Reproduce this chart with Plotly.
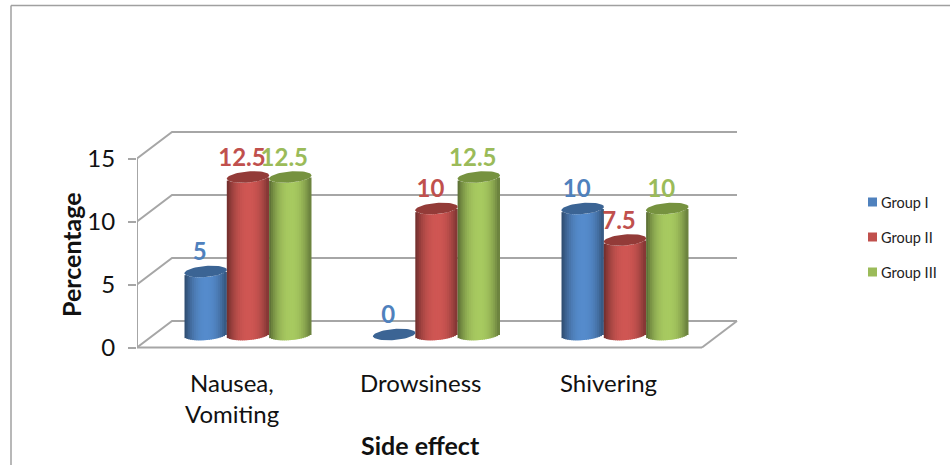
import math
import plotly.graph_objects as go

# Survey data: percentage of patients per side effect and group
categories = [["Nausea,", "Vomiting"], ["Drowsiness"], ["Shivering"]]
groups = ["Group I", "Group II", "Group III"]
group_i = [5, 0, 10]
group_ii = [12.5, 10, 7.5]
group_iii = [12.5, 12.5, 10]
y_ticks = [0, 5, 10, 15]

# Styling
FONT = "Lato"
GRID = "#a6a6a6"
BASE_COLORS = ["#4f81bd", "#c0504d", "#9bbb59"]
LABEL_COLORS = ["#4f81bd", "#c0504d", "#9bbb59"]
TOP_COLORS = ["#3b6494", "#933b38", "#76923f"]

# Canvas, plot box and the front face of the chart, in pixels
W, H = 950, 465
BOX_LEFT, BOX_RIGHT, BOX_TOP, BOX_BOTTOM = 137, 760, 120, 388
FRONT_RIGHT, ZERO_Y, FIFTEEN_Y = 702, 347.5, 158.5
PX_X = 1 / 188.5                    # category units per pixel
PX_Y = 15 / (ZERO_Y - FIFTEEN_Y)    # value units per pixel
X_LEFT = -(248 - BOX_LEFT) * PX_X
X_FRONT_RIGHT = X_LEFT + (FRONT_RIGHT - BOX_LEFT) * PX_X
X_RANGE = [X_LEFT, X_LEFT + (BOX_RIGHT - BOX_LEFT) * PX_X]
Y_RANGE = [-(BOX_BOTTOM - ZERO_Y) * PX_Y, (ZERO_Y - BOX_TOP) * PX_Y]

# Pseudo-3D depth of the chart box and of the cylinders inside it
DEPTH_X = 35 * PX_X
DEPTH_Y = 26.5 * PX_Y
MID_DEPTH_Y = 13 * PX_Y
BAR_STEP = 42.3 * PX_X
RX = 21.2 * PX_X
RY = 5.6 * PX_Y
TILT = 0.08 * PX_Y / PX_X   # slope of the ellipses, in data units
SLICES = 22
SLICE_WIDTH = 3 * PX_X


def shade(hex_color, factor):
    rgb = [int(hex_color[i:i + 2], 16) for i in (1, 3, 5)]
    rgb = [max(0, min(255, round(c * factor))) for c in rgb]
    return "rgb({},{},{})".format(*rgb)


def px_paper_x(px):
    return (px - BOX_LEFT) / (BOX_RIGHT - BOX_LEFT)


def px_paper_y(py):
    return (BOX_BOTTOM - py) / (BOX_BOTTOM - BOX_TOP)


fig = go.Figure()

# Axis lines, back walls and floor, on the lower subplot so the bars cover them
wall_x, wall_y = [X_LEFT, X_LEFT, None, X_LEFT, X_FRONT_RIGHT, None], [0, 15, None, 0, 0, None]
for tick in y_ticks:
    wall_x += [X_LEFT, X_LEFT + DEPTH_X, X_FRONT_RIGHT + DEPTH_X, None]
    wall_y += [tick, tick + DEPTH_Y, tick + DEPTH_Y, None]
wall_x += [X_FRONT_RIGHT, X_FRONT_RIGHT + DEPTH_X, None]
wall_y += [0, DEPTH_Y, None]
fig.add_trace(go.Scatter(x=wall_x, y=wall_y, mode="lines",
                         line=dict(color=GRID, width=2), hoverinfo="skip",
                         showlegend=False))

# Cylinders: each body is a run of narrow shaded bars, its cap a filled ellipse
half_span = RX - SLICE_WIDTH / 2
for g, (name, series) in enumerate(zip(groups, [group_i, group_ii, group_iii])):
    xs, heights, bases, colors = [], [], [], []
    center_offset = (g - 1) * BAR_STEP
    for c, value in enumerate(series):
        cx = c + center_offset
        for s in range(SLICES):
            t = -1 + 2 * s / (SLICES - 1)
            u = t * half_span / RX
            edge = -RY * math.sqrt(max(0, 1 - u * u)) + TILT * u * RX
            xs.append(cx + t * half_span)
            heights.append(value)
            bases.append(MID_DEPTH_Y + edge)
            light = 0.66 + 0.42 * (1 - abs(t - 0.05) ** 2.2)
            colors.append(shade(BASE_COLORS[g], light))
    fig.add_trace(go.Bar(x=xs, y=heights, base=bases, width=SLICE_WIDTH,
                         marker=dict(color=colors, line=dict(width=0)),
                         name=name, showlegend=False, hoverinfo="skip",
                         xaxis="x2", yaxis="y2"))
    for c, value in enumerate(series):
        cx = c + center_offset
        cy = value + MID_DEPTH_Y
        ex, ey = [], []
        for k in range(61):
            a = 2 * math.pi * k / 60
            ex.append(cx + RX * math.cos(a))
            ey.append(cy + RY * math.sin(a) + TILT * RX * math.cos(a))
        fig.add_trace(go.Scatter(x=ex, y=ey, mode="lines", fill="toself",
                                 fillcolor=TOP_COLORS[g], line=dict(width=0),
                                 hoverinfo="skip", showlegend=False,
                                 xaxis="x2", yaxis="y2"))

# Value labels sit above the caps, nudged toward the left
for g, series in enumerate([group_i, group_ii, group_iii]):
    center_offset = (g - 1) * BAR_STEP
    fig.add_trace(go.Scatter(
        x=[c + center_offset - 6 * PX_X for c in range(len(series))],
        y=[v + MID_DEPTH_Y + 17.5 * PX_Y for v in series],
        text=[str(v) for v in series], mode="text", textposition="middle center",
        textfont=dict(family=FONT, size=24, color=LABEL_COLORS[g], weight="bold"),
        hoverinfo="skip", showlegend=False, xaxis="x2", yaxis="y2"))

# Category labels, one annotation per line for the wider line pitch
annotations = []
for c, lines in enumerate(categories):
    for n, line in enumerate(lines):
        annotations.append(dict(
            x=c - 16.5 * PX_X, xref="x", xanchor="center",
            y=px_paper_y(382.5 + 31 * n), yref="paper", yanchor="middle",
            text=line, showarrow=False, font=dict(family=FONT, size=24, color="#111111")))

# X axis title, centred under the front face
annotations.append(dict(
    x=px_paper_x(420), xref="paper", xanchor="center",
    y=px_paper_y(445), yref="paper", yanchor="middle",
    text="<b>Side effect</b>", showarrow=False,
    font=dict(family=FONT, size=25, color="#111111")))

# Legend key at the right
shapes = []
for g, name in enumerate(groups):
    cy = 202 + 35 * g
    shapes.append(dict(type="rect", xref="paper", yref="paper",
                       x0=px_paper_x(868), x1=px_paper_x(877),
                       y0=px_paper_y(cy - 4.5), y1=px_paper_y(cy + 4.5),
                       fillcolor=BASE_COLORS[g], line=dict(width=0)))
    annotations.append(dict(x=px_paper_x(879), xref="paper", xanchor="left",
                            y=px_paper_y(cy), yref="paper", yanchor="middle",
                            text=name, showarrow=False, align="left",
                            font=dict(family=FONT, size=14.5, color="#222222")))

# Outer frame of the chart, open to the right and bottom
for x0, y0, x1, y1 in [(11, 5.5, W, 5.5), (11, 5.5, 11, H)]:
    shapes.append(dict(type="line", xref="paper", yref="paper",
                       x0=px_paper_x(x0), y0=px_paper_y(y0),
                       x1=px_paper_x(x1), y1=px_paper_y(y1),
                       line=dict(color="#a0a0a0", width=1.5)))

# Y axis title, placed next to the tick labels
annotations.append(dict(
    x=px_paper_x(70.5), xref="paper", xanchor="center",
    y=px_paper_y(254.5), yref="paper", yanchor="middle", textangle=-90,
    text="<b>Percentage</b>", showarrow=False,
    font=dict(family=FONT, size=25, color="#111111")))

fig.update_layout(
    width=W, height=H, autosize=False,
    margin=dict(l=BOX_LEFT, r=W - BOX_RIGHT, t=BOX_TOP, b=H - BOX_BOTTOM, pad=0),
    paper_bgcolor="white", plot_bgcolor="rgba(0,0,0,0)",
    barmode="overlay", showlegend=False,
    annotations=annotations, shapes=shapes,
    font=dict(family=FONT, color="#111111"),
    xaxis=dict(range=X_RANGE, visible=False),
    yaxis=dict(range=Y_RANGE, tickvals=y_ticks, ticks="outside", ticklen=8,
               tickcolor=GRID, tickwidth=2, ticklabelstandoff=8,
               showline=False, zeroline=False, showgrid=False,
               tickfont=dict(family=FONT, size=24, color="#111111")),
    xaxis2=dict(range=X_RANGE, overlaying="x", visible=False),
    yaxis2=dict(range=Y_RANGE, overlaying="y", visible=False),
)

fig.write_html("out.html", config=dict(displayModeBar=False))
